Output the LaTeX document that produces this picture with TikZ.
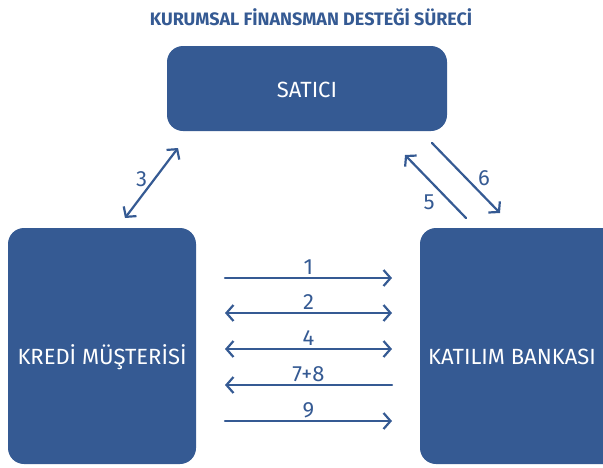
\documentclass[tikz,border=0pt]{standalone}
\usepackage{fontspec}
\setmainfont{Fira Sans}
\usetikzlibrary{arrows.meta}
\definecolor{kblue}{HTML}{355A93}
\tikzstyle{every node}=[font=\fontsize{22}{26}\selectfont]
\tikzstyle{every path}=[line width=2.2pt,line cap=round,line join=round]

\begin{document}
\begin{tikzpicture}[x=1pt,y=-1pt,>={Straight Barb[length=7pt,width=16pt,line width=2.2pt]}]
	\tikzstyle{party} = [fill=kblue,draw=none,rounded corners=16pt]
	\tikzstyle{flow} = [kblue]
	\tikzstyle{num} = [text=kblue,inner sep=1pt]
	
	\useasboundingbox (0,0) rectangle (603,467);
	
	\node[text=kblue,font=\fontsize{18}{20}\selectfont\bfseries] (title) at (311,17) {KURUMSAL FİNANSMAN DESTEĞİ SÜRECİ};
	
	\filldraw[party] (167,46) rectangle (447,131);
	\node[text=white] (satici) at (307,90) {SATICI};
	\filldraw[party] (8,228) rectangle (196,464);
	\node[text=white] (kredi) at (102,357) {KREDİ MÜŞTERİSİ};
	\filldraw[party] (420,228) rectangle (640,464);
	\node[text=white] (katilim) at (512,357) {KATILIM BANKASI};
	
	% satici - kredi / katilim
	\coordinate (s3) at (178,148);
	\coordinate (k3) at (125,218);
	\draw[flow,<->] (k3) -- (s3) node[num,pos=0.55,left=5pt] {3};
	\coordinate (s5) at (405,155);
	\coordinate (b5) at (466,218);
	\draw[flow,->] (b5) -- (s5) node[num,pos=0.25,left=14pt] {5};
	\coordinate (s6) at (432,143);
	\coordinate (b6) at (500,213);
	\draw[flow,->] (s6) -- (b6) node[num,pos=0.5,right=10pt] {6};
	
	% kredi - katilim
	\foreach \y/\lbl/\tips in {278/1/->,313/2/<->,349/4/<->,385/7+8/<-,421/9/->}{
		\coordinate (l\y) at (225,\y);
		\coordinate (r\y) at (392,\y);
		\draw[flow,\tips] (l\y) -- (r\y) node[num,midway,above=1pt] {\lbl};
	}
\end{tikzpicture}
\end{document}
